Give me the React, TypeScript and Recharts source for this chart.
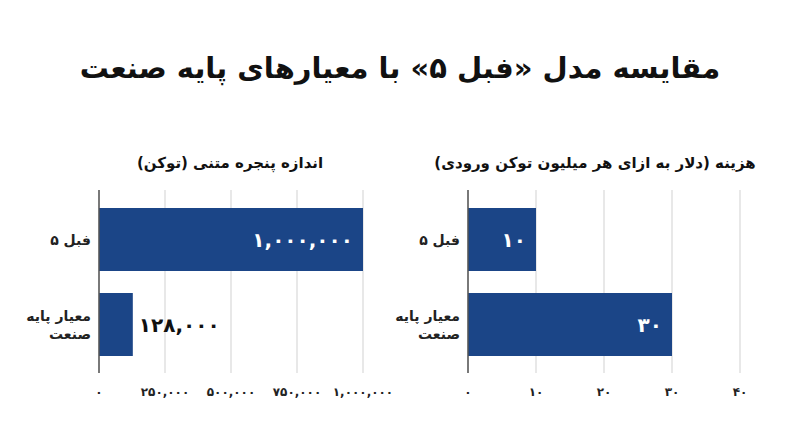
import React from 'react';
import { BarChart, Bar, XAxis, YAxis, CartesianGrid, LabelList } from 'recharts';

const models = ['فبل ۵', 'معیار پایه صنعت'];
const contextWindow = [1000000, 128000];
const costPerMillion = [10, 30];
const contextTicks = [0, 250000, 500000, 750000, 1000000];
const costTicks = [0, 10, 20, 30, 40];

const BAR = '#1b4587';
const FONT = '"DejaVu Sans", sans-serif';

// Persian digits with western grouping commas
const toFa = (n: number) =>
    n.toLocaleString('en-US').replace(/\d/g, d => '۰۱۲۳۴۵۶۷۸۹'[Number(d)]);

// crude word wrap for the long category label
const wrap = (s: string, max = 10) => {
    const lines: string[] = [];
    let cur = '';
    s.split(' ').forEach(w => {
        if (cur && (cur + ' ' + w).length > max) {
            lines.push(cur);
            cur = w;
        } else {
            cur = cur ? cur + ' ' + w : w;
        }
    });
    if (cur) lines.push(cur);
    return lines;
};

const CategoryTick = (props: any) => {
    const { x, y, payload } = props;
    const lines = wrap(String(payload.value));
    const lh = 18;
    const start = y - ((lines.length - 1) * lh) / 2;
    return (
        <text x={x} y={start} textAnchor="end" dominantBaseline="central" fontFamily={FONT} fontSize={14} fontWeight="bold" fill="#222">
            {lines.map((l, i) => (
                <tspan key={i} x={x} y={start + i * lh}>{l}</tspan>
            ))}
        </text>
    );
};

const ValueLabel = (props: any) => {
    const { x, y, width, height, value } = props;
    const inside = width > 50;
    return (
        <text
            x={inside ? x + width - 10 : x + width + 6}
            y={y + height / 2}
            textAnchor={inside ? 'end' : 'start'}
            dominantBaseline="central"
            fontFamily={FONT}
            fontSize={20}
            fontWeight="bold"
            fill={inside ? '#fff' : '#111'}
        >
            {toFa(value)}
        </text>
    );
};

interface PanelProps {
    values: number[];
    ticks: number[];
    left: number;
    width: number;
    yWidth: number;
    rightMargin: number;
}

const Panel: React.FC<PanelProps> = ({ values, ticks, left, width, yWidth, rightMargin }) => {
    const data = models.map((name, i) => ({ name, value: values[i] }));
    return (
        <div style={{ position: 'absolute', left, top: 0 }}>
            <BarChart
                width={width}
                height={447}
                data={data}
                layout="vertical"
                margin={{ top: 190, right: rightMargin, left: 0, bottom: 44 }}
            >
                <CartesianGrid horizontal={false} stroke="#d9d9d9" strokeWidth={1.2} />
                <XAxis
                    type="number"
                    domain={[ticks[0], ticks[ticks.length - 1]]}
                    ticks={ticks}
                    tickFormatter={toFa}
                    axisLine={false}
                    tickLine={false}
                    tickMargin={8}
                    height={30}
                    interval={0}
                    tick={{ fontFamily: FONT, fontSize: 12, fontWeight: 'bold', fill: '#222' }}
                />
                <YAxis
                    type="category"
                    dataKey="name"
                    width={yWidth}
                    padding={{ top: 7, bottom: 6 }}
                    axisLine={{ stroke: '#555', strokeWidth: 1.5 }}
                    tickLine={false}
                    tick={<CategoryTick />}
                />
                <Bar dataKey="value" fill={BAR} barSize={63} isAnimationActive={false}>
                    <LabelList dataKey="value" content={<ValueLabel />} />
                </Bar>
            </BarChart>
        </div>
    );
};

const App: React.FC = () => (
    <div style={{ position: 'absolute', left: 0, top: 0, width: 800, height: 447, background: '#fff', fontFamily: FONT, overflow: 'hidden' }}>
        <div dir="rtl" style={{ position: 'absolute', left: 0, width: 800, top: 51, textAlign: 'center', fontSize: 29, fontWeight: 'bold', color: '#111', whiteSpace: 'nowrap' }}>
            مقایسه مدل «فبل ۵» با معیارهای پایه صنعت
        </div>
        <div dir="rtl" style={{ position: 'absolute', left: 80, width: 300, top: 154, textAlign: 'center', fontSize: 15, fontWeight: 'bold', color: '#111', whiteSpace: 'nowrap' }}>
            اندازه پنجره متنی (توکن)
        </div>
        <div dir="rtl" style={{ position: 'absolute', left: 400, width: 390, top: 154, textAlign: 'center', fontSize: 15, fontWeight: 'bold', color: '#111', whiteSpace: 'nowrap' }}>
            هزینه (دلار به ازای هر میلیون توکن ورودی)
        </div>
        <Panel values={contextWindow} ticks={contextTicks} left={0} width={400} yWidth={99} rightMargin={37} />
        <Panel values={costPerMillion} ticks={costTicks} left={340} width={460} yWidth={128} rightMargin={60} />
    </div>
);

export default App;
